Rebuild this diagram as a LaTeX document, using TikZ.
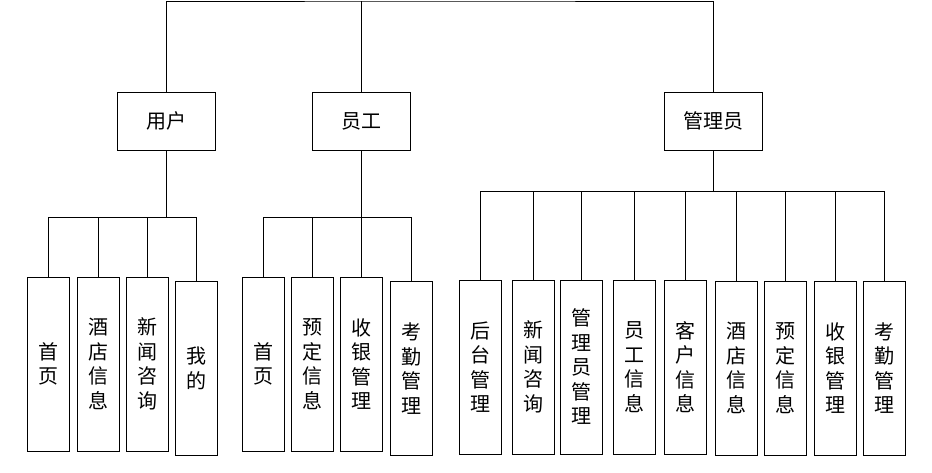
\documentclass[tikz,border=0pt]{standalone}
\usepackage{fontspec}
\newfontfamily\cjk{Noto Sans CJK SC}
\usetikzlibrary{positioning}

\begin{document}
\begin{tikzpicture}[x=1pt,y=-1pt, role/.style={draw,line width=0.9pt,minimum width=98pt,minimum height=58pt,inner sep=0pt,font=\cjk\fontsize{20}{22}\selectfont},
    leaf/.style={draw,line width=0.9pt,minimum width=42pt,minimum height=174pt,inner sep=0pt,align=center,font=\cjk\fontsize{20}{24.5}\selectfont},
    link/.style={line width=0.9pt}]
    \useasboundingbox (0,0) rectangle (932,472);

    \node[role] (user) at (166,121) {用户};
    \node[role] (staff) at (361,121) {员工};
    \node[role] (admin) at (713,121) {管理员};

    \coordinate (root) at (440,1);
    \coordinate (ubus) at (166,217);
    \coordinate (sbus) at (361,217);
    \coordinate (abus) at (713,191);

    \node[leaf] (u1) at (48,364) {首\\页};
    \node[leaf] (u2) at (98,364) {酒\\店\\信\\息};
    \node[leaf] (u3) at (147,364) {新\\闻\\咨\\询};
    \node[leaf] (u4) at (196,368.5) {我\\的};

    \node[leaf] (s1) at (263,364) {首\\页};
    \node[leaf] (s2) at (312,364) {预\\定\\信\\息};
    \node[leaf] (s3) at (361,364) {收\\银\\管\\理};
    \node[leaf] (s4) at (411,368.5) {考\\勤\\管\\理};

    \node[leaf] (a1) at (480,367) {后\\台\\管\\理};
    \node[leaf] (a2) at (533,367) {新\\闻\\咨\\询};
    \node[leaf] (a3) at (581,367) {管\\理\\员\\管\\理};
    \node[leaf] (a4) at (634,367) {员\\工\\信\\息};
    \node[leaf] (a5) at (685,367) {客\\户\\信\\息};
    \node[leaf] (a6) at (736,368) {酒\\店\\信\\息};
    \node[leaf] (a7) at (785,368) {预\\定\\信\\息};
    \node[leaf] (a8) at (835,368) {收\\银\\管\\理};
    \node[leaf] (a9) at (884,368) {考\\勤\\管\\理};

    % top level
    \draw[link] (user.north) |- (root) -| (admin.north);
    \draw[link] (staff.north) -- (staff.north |- root);

    % user
    \draw[link] (user.south) -- (ubus);
    \draw[link] (ubus) -| (u1.north);
    \draw[link] (ubus) -| (u2.north);
    \draw[link] (ubus) -| (u3.north);
    \draw[link] (ubus) -| (u4.north);

    % staff
    \draw[link] (staff.south) -- (sbus);
    \draw[link] (sbus) -| (s1.north);
    \draw[link] (sbus) -| (s2.north);
    \draw[link] (sbus) -- (s3.north);
    \draw[link] (sbus) -| (s4.north);

    % admin
    \draw[link] (admin.south) -- (abus);
    \draw[link] (abus) -| (a1.north);
    \draw[link] (abus) -| (a2.north);
    \draw[link] (abus) -| (a3.north);
    \draw[link] (abus) -| (a4.north);
    \draw[link] (abus) -| (a5.north);
    \draw[link] (abus) -| (a6.north);
    \draw[link] (abus) -| (a7.north);
    \draw[link] (abus) -| (a8.north);
    \draw[link] (abus) -| (a9.north);
\end{tikzpicture}
\end{document}
